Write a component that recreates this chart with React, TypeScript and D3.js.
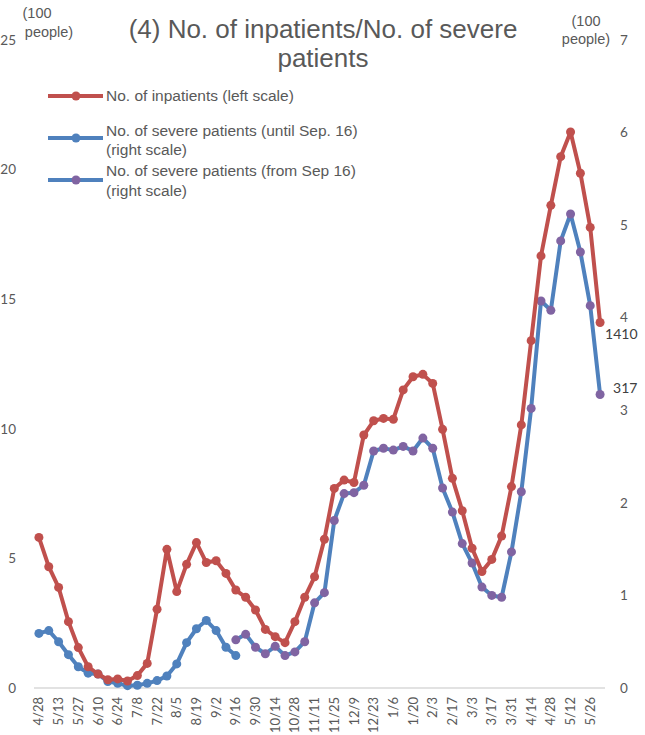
import React from "react";
import * as d3 from "d3";

const categories: string[] = [
  "4/28","5/6","5/13","5/20","5/27","6/3","6/10","6/17","6/24","7/1","7/8","7/15","7/22","7/29",
  "8/5","8/12","8/19","8/26","9/2","9/9","9/16","9/23","9/30","10/7","10/14","10/21","10/28","11/4",
  "11/11","11/18","11/25","12/2","12/9","12/16","12/23","12/30","1/6","1/13","1/20","1/27","2/3","2/10",
  "2/17","2/24","3/3","3/10","3/17","3/24","3/31","4/7","4/14","4/21","4/28","5/5","5/12","5/19","5/26","6/2"
];

// No. of inpatients (hundreds of people, left scale)
const inpatients: number[] = [
  5.81,4.68,3.88,2.56,1.56,0.82,0.54,0.32,0.35,0.27,0.48,0.95,3.04,5.35,
  3.72,4.77,5.61,4.84,4.91,4.42,3.78,3.50,3.01,2.26,1.98,1.75,2.56,3.50,
  4.29,5.74,7.70,8.02,7.93,9.76,10.31,10.40,10.37,11.50,12.01,12.10,11.75,9.98,
  8.09,6.84,5.39,4.49,4.96,5.86,7.77,10.15,13.40,16.67,18.62,20.50,21.45,19.86,17.77,14.10
];

// No. of severe patients until Sep. 16 (hundreds, right scale), indices 0..20
const severeUntil: number[] = [
  0.59,0.62,0.50,0.36,0.23,0.16,0.15,0.07,0.05,0.025,0.03,0.05,0.08,0.13,
  0.26,0.49,0.64,0.73,0.62,0.44,0.35
];

// No. of severe patients from Sep 16 (hundreds, right scale), indices 20..57
const severeFromStart = 20;
const severeFrom: number[] = [
  0.52,0.58,0.44,0.37,0.45,0.35,0.39,0.50,0.92,1.03,1.81,2.10,2.11,2.19,
  2.56,2.59,2.57,2.61,2.56,2.70,2.59,2.16,1.90,1.56,1.35,1.09,1.00,0.98,
  1.47,2.12,3.02,4.18,4.08,4.83,5.12,4.71,4.13,3.17
];

const leftTicks: number[] = [0, 5, 10, 15, 20, 25];
const rightTicks: number[] = [0, 1, 2, 3, 4, 5, 6, 7];

const RED = "#C0504D";
const BLUE = "#4F81BD";
const PURPLE = "#8064A2";
const TXT = "#595959";
const TICKFONT = "Lato, 'Open Sans', sans-serif";
const ARIAL = "'Liberation Sans', Arial, sans-serif";

export default function App() {
  const W = 645, H = 735;
  const x = d3.scalePoint<string>().domain(categories.map((c, i) => String(i))).range([34, 605]).padding(0.5);
  const yL = d3.scaleLinear().domain([0, 25]).range([688, 40]);
  const yR = d3.scaleLinear().domain([0, 7]).range([688, 40]);
  const xi = (i: number) => x(String(i)) as number;

  const lineL = d3.line<number>().x((_, i) => xi(i)).y(d => yL(d));
  const lineU = d3.line<number>().x((_, i) => xi(i)).y(d => yR(d));
  const lineF = d3.line<number>().x((_, i) => xi(i + severeFromStart)).y(d => yR(d));

  const lastI = inpatients.length - 1;
  const lastF = severeFrom.length - 1;

  return (
    <svg width={W} height={H} style={{ position: "absolute", left: 0, top: 0, background: "#fff" }}>
      {/* title */}
      <text x={323} y={38} textAnchor="middle" fontFamily={ARIAL} fontSize={26} fill={TXT}>
        (4) No. of inpatients/No. of severe
      </text>
      <text x={323} y={67} textAnchor="middle" fontFamily={ARIAL} fontSize={26} fill={TXT}>
        patients
      </text>
      {/* unit labels */}
      <text x={37} y={18} textAnchor="middle" fontFamily={ARIAL} fontSize={14.5} fill={TXT}>(100</text>
      <text x={49} y={37} textAnchor="middle" fontFamily={ARIAL} fontSize={14.5} fill={TXT}>people)</text>
      <text x={586} y={26} textAnchor="middle" fontFamily={ARIAL} fontSize={14.5} fill={TXT}>(100</text>
      <text x={586} y={44} textAnchor="middle" fontFamily={ARIAL} fontSize={14.5} fill={TXT}>people)</text>

      {/* axis baseline */}
      <line x1={34} x2={605} y1={yL(0)} y2={yL(0)} stroke="#D9D9D9" strokeWidth={1.5} />

      {/* left ticks */}
      {leftTicks.map(t => (
        <text key={"l" + t} x={16} y={yL(t)} dy="0.35em" textAnchor="end" fontFamily={TICKFONT} fontSize={13.5} fill={TXT}>{t}</text>
      ))}
      {/* right ticks */}
      {rightTicks.map(t => (
        <text key={"r" + t} x={620} y={yR(t)} dy="0.35em" textAnchor="start" fontFamily={TICKFONT} fontSize={13.5} fill={TXT}>{t}</text>
      ))}
      {/* x labels */}
      {categories.map((c, i) => i % 2 === 0 ? (
        <text key={"x" + i} transform={`translate(${xi(i)},697) rotate(-90)`} dy="0.35em" textAnchor="end" fontFamily={TICKFONT} fontSize={13} fill={TXT}>{c}</text>
      ) : null)}

      {/* severe until */}
      <path d={lineU(severeUntil) || ""} fill="none" stroke={BLUE} strokeWidth={4} strokeLinejoin="round" />
      {severeUntil.map((d, i) => <circle key={"u" + i} cx={xi(i)} cy={yR(d)} r={4.5} fill={BLUE} />)}
      {/* severe from */}
      <path d={lineF(severeFrom) || ""} fill="none" stroke={BLUE} strokeWidth={4} strokeLinejoin="round" />
      {severeFrom.map((d, i) => <circle key={"f" + i} cx={xi(i + severeFromStart)} cy={yR(d)} r={4.5} fill={PURPLE} />)}
      {/* inpatients */}
      <path d={lineL(inpatients) || ""} fill="none" stroke={RED} strokeWidth={4} strokeLinejoin="round" />
      {inpatients.map((d, i) => <circle key={"i" + i} cx={xi(i)} cy={yL(d)} r={4.5} fill={RED} />)}

      {/* data labels */}
      <text x={xi(lastI) + 5} y={yL(inpatients[lastI]) + 16} fontFamily={TICKFONT} fontSize={14} fill="#404040">{Math.round(inpatients[lastI] * 100)}</text>
      <text x={xi(lastF + severeFromStart) + 13} y={yR(severeFrom[lastF]) - 2} fontFamily={TICKFONT} fontSize={14} fill="#404040">{Math.round(severeFrom[lastF] * 100)}</text>

      {/* legend */}
      <line x1={48} x2={103} y1={96} y2={96} stroke={RED} strokeWidth={4} />
      <circle cx={76} cy={96} r={4.5} fill={RED} />
      <text x={106} y={96} dy="0.35em" fontFamily={ARIAL} fontSize={15.5} fill={TXT}>No. of inpatients (left scale)</text>

      <line x1={48} x2={103} y1={138} y2={138} stroke={BLUE} strokeWidth={4} />
      <circle cx={76} cy={138} r={4.5} fill={BLUE} />
      <text x={106} y={131} dy="0.35em" fontFamily={ARIAL} fontSize={15.5} fill={TXT}>No. of severe patients (until Sep. 16)</text>
      <text x={106} y={150} dy="0.35em" fontFamily={ARIAL} fontSize={15.5} fill={TXT}>(right scale)</text>

      <line x1={48} x2={103} y1={180} y2={180} stroke={BLUE} strokeWidth={4} />
      <circle cx={76} cy={180} r={4.5} fill={PURPLE} />
      <text x={106} y={171} dy="0.35em" fontFamily={ARIAL} fontSize={15.5} fill={TXT}>No. of severe patients (from Sep 16)</text>
      <text x={106} y={191} dy="0.35em" fontFamily={ARIAL} fontSize={15.5} fill={TXT}>(right scale)</text>
    </svg>
  );
}
